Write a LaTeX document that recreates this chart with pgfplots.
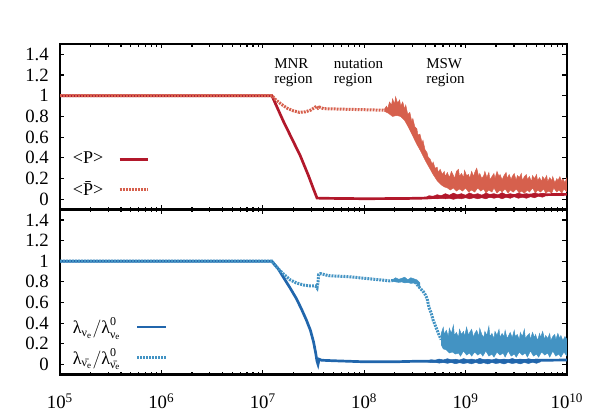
\documentclass[border=0pt]{standalone}
\usepackage{fontspec}
\setmainfont{Liberation Serif}
\usepackage{amsmath}
\usepackage{pgfplots}
\usepackage{pgfplotstable}
\pgfplotsset{compat=1.18}

\definecolor{cP}{HTML}{B2182B}
\definecolor{cPb}{HTML}{D6604D}
\definecolor{cL}{HTML}{2166AC}
\definecolor{cLb}{HTML}{4393C3}

% x is given as log10 of the value
\pgfplotstableread{
lx y
5 1
7.09 1
7.2 0.76
7.3 0.56
7.37 0.42
7.45 0.23
7.5 0.1
7.535 0.012
7.6 0.01
8.0 0.006
8.4 0.008
8.6 0.012
8.8 0.025
9.2 0.03
9.8 0.045
10 0.048
}\tabP

\pgfplotstableread{
lx y
8.60 0.015
8.64 0.035
8.68 0.030
8.72 0.045
8.76 0.035
8.80 0.055
8.84 0.040
8.88 0.060
8.92 0.045
8.96 0.055
9.00 0.040
9.04 0.062
9.08 0.045
9.12 0.055
9.16 0.040
9.20 0.060
9.24 0.048
9.28 0.055
9.32 0.042
9.36 0.065
9.40 0.045
9.44 0.055
9.48 0.045
9.52 0.060
9.56 0.048
9.60 0.055
9.64 0.045
9.68 0.062
9.72 0.050
9.76 0.058
9.80 0.050
9.80 0.040
9.76 0.020
9.72 0.030
9.68 0.015
9.64 0.025
9.60 0.010
9.56 0.020
9.52 0.010
9.48 0.025
9.44 0.010
9.40 0.020
9.36 0.005
9.32 0.020
9.28 0.010
9.24 0.020
9.20 0.005
9.16 0.015
9.12 0.005
9.08 0.015
9.04 0.005
9.00 0.015
8.96 0.005
8.92 0.010
8.88 0.000
8.84 0.010
8.80 0.005
8.76 0.010
8.72 0.005
8.68 0.010
8.64 0.005
8.60 0.008
}\bandP

\pgfplotstableread{
lx y
5 1
7.09 1
7.13 0.96
7.18 0.92
7.24 0.88
7.30 0.855
7.36 0.84
7.42 0.845
7.47 0.86
7.51 0.885
7.53 0.90
7.545 0.88
7.56 0.89
7.60 0.875
7.80 0.87
8.00 0.865
8.20 0.86
8.23 0.86
}\tabPb

\pgfplotstableread{
lx y
8.20 0.87
8.22 0.90
8.23 0.87
8.25 0.94
8.27 0.91
8.28 0.97
8.30 0.92
8.31 0.99
8.33 0.93
8.35 0.96
8.36 0.90
8.38 0.94
8.40 0.87
8.41 0.91
8.43 0.82
8.45 0.84
8.47 0.75
8.48 0.78
8.50 0.70
8.52 0.68
8.53 0.62
8.55 0.63
8.57 0.55
8.58 0.57
8.60 0.48
8.62 0.45
8.63 0.41
8.65 0.39
8.67 0.34
8.68 0.36
8.70 0.30
8.72 0.31
8.73 0.26
8.75 0.29
8.77 0.24
8.79 0.27
8.80 0.22
8.82 0.26
8.84 0.21
8.86 0.27
8.88 0.23
8.89 0.20
8.91 0.27
8.93 0.29
8.94 0.22
8.96 0.25
8.98 0.21
8.99 0.28
9.01 0.23
9.03 0.24
9.04 0.20
9.06 0.27
9.08 0.22
9.09 0.26
9.11 0.30
9.13 0.22
9.14 0.25
9.16 0.20
9.18 0.23
9.19 0.27
9.21 0.21
9.23 0.26
9.24 0.19
9.26 0.22
9.28 0.25
9.29 0.20
9.31 0.27
9.33 0.22
9.34 0.24
9.36 0.19
9.38 0.23
9.40 0.26
9.41 0.20
9.43 0.24
9.45 0.19
9.46 0.22
9.48 0.25
9.50 0.18
9.51 0.23
9.53 0.21
9.55 0.25
9.56 0.18
9.58 0.22
9.60 0.24
9.61 0.19
9.63 0.22
9.65 0.17
9.66 0.23
9.68 0.20
9.70 0.24
9.71 0.18
9.73 0.21
9.75 0.17
9.76 0.22
9.78 0.19
9.80 0.23
9.81 0.17
9.83 0.21
9.85 0.18
9.86 0.22
9.88 0.16
9.90 0.20
9.91 0.18
9.93 0.22
9.95 0.17
9.96 0.20
9.98 0.16
10.0 0.21
10.0 0.07
9.97 0.10
9.95 0.06
9.92 0.09
9.90 0.07
9.87 0.11
9.85 0.06
9.82 0.08
9.79 0.06
9.77 0.10
9.74 0.07
9.71 0.09
9.69 0.06
9.66 0.11
9.63 0.07
9.61 0.09
9.58 0.06
9.55 0.08
9.53 0.06
9.50 0.10
9.47 0.07
9.44 0.09
9.42 0.06
9.39 0.10
9.36 0.07
9.34 0.09
9.31 0.06
9.28 0.11
9.26 0.07
9.23 0.09
9.20 0.06
9.18 0.10
9.15 0.08
9.12 0.11
9.09 0.07
9.06 0.09
9.03 0.07
9.00 0.11
8.97 0.08
8.94 0.10
8.91 0.08
8.88 0.11
8.85 0.09
8.82 0.11
8.79 0.12
8.76 0.14
8.72 0.18
8.68 0.24
8.64 0.31
8.60 0.38
8.56 0.46
8.52 0.53
8.48 0.61
8.44 0.69
8.40 0.76
8.36 0.80
8.32 0.81
8.28 0.80
8.24 0.83
8.20 0.85
}\bandPb

\pgfplotstableread{
lx y
5 1
7.09 1
7.15 0.93
7.20 0.85
7.27 0.74
7.33 0.64
7.38 0.54
7.43 0.43
7.47 0.33
7.50 0.22
7.52 0.12
7.535 0.03
7.545 0.0
7.555 0.05
7.58 0.04
7.70 0.035
8.00 0.025
8.30 0.025
8.50 0.03
8.70 0.03
9.20 0.032
9.76 0.04
10 0.042
}\tabL

\pgfplotstableread{
lx y
8.62 0.035
8.66 0.045
8.70 0.040
8.74 0.052
8.78 0.042
8.82 0.055
8.86 0.045
8.90 0.050
8.94 0.042
8.98 0.056
9.02 0.045
9.06 0.052
9.10 0.043
9.14 0.058
9.18 0.045
9.22 0.050
9.26 0.042
9.30 0.055
9.34 0.046
9.38 0.052
9.42 0.044
9.46 0.057
9.50 0.045
9.54 0.052
9.58 0.043
9.62 0.055
9.66 0.046
9.70 0.052
9.74 0.045
9.74 0.025
9.70 0.010
9.66 0.020
9.62 0.008
9.58 0.018
9.54 0.005
9.50 0.015
9.46 0.008
9.42 0.018
9.38 0.004
9.34 0.015
9.30 0.008
9.26 0.018
9.22 0.004
9.18 0.015
9.14 0.006
9.10 0.018
9.06 0.005
9.02 0.015
8.98 0.008
8.94 0.016
8.90 0.006
8.86 0.018
8.82 0.010
8.78 0.018
8.74 0.012
8.70 0.020
8.66 0.018
8.62 0.025
}\bandL

\pgfplotstableread{
lx y
5 1
7.09 1
7.13 0.95
7.20 0.88
7.27 0.82
7.33 0.79
7.40 0.77
7.47 0.76
7.52 0.76
7.535 0.74
7.545 0.80
7.55 0.87
7.57 0.88
7.65 0.86
7.75 0.855
7.85 0.85
7.95 0.84
8.05 0.83
8.15 0.82
8.25 0.81
8.30 0.815
8.40 0.81
8.50 0.80
8.55 0.74
8.58 0.71
8.60 0.68
8.62 0.64
8.64 0.55
8.66 0.50
8.68 0.43
8.70 0.38
8.72 0.33
8.74 0.28
8.76 0.24
}\tabLb

\pgfplotstableread{
lx y
8.28 0.82
8.31 0.84
8.34 0.825
8.37 0.835
8.40 0.845
8.43 0.82
8.46 0.84
8.49 0.83
8.52 0.82
8.55 0.79
8.55 0.74
8.52 0.78
8.49 0.79
8.46 0.785
8.43 0.795
8.40 0.79
8.37 0.80
8.34 0.795
8.31 0.80
8.28 0.805
}\noiseLb

\pgfplotstableread{
lx y
8.76 0.30
8.78 0.36
8.79 0.29
8.81 0.33
8.83 0.27
8.84 0.35
8.86 0.30
8.88 0.38
8.89 0.28
8.91 0.31
8.93 0.26
8.94 0.34
8.96 0.29
8.98 0.32
8.99 0.27
9.01 0.36
9.03 0.28
9.04 0.31
9.06 0.34
9.08 0.26
9.09 0.30
9.11 0.33
9.13 0.27
9.14 0.35
9.16 0.29
9.18 0.26
9.19 0.32
9.21 0.28
9.23 0.37
9.24 0.27
9.26 0.30
9.28 0.25
9.29 0.32
9.31 0.28
9.33 0.34
9.34 0.26
9.36 0.30
9.38 0.27
9.39 0.33
9.41 0.25
9.43 0.29
9.44 0.31
9.46 0.26
9.48 0.33
9.49 0.27
9.51 0.29
9.53 0.24
9.54 0.31
9.56 0.27
9.58 0.34
9.59 0.25
9.61 0.28
9.63 0.30
9.64 0.24
9.66 0.31
9.68 0.26
9.69 0.29
9.71 0.23
9.73 0.30
9.74 0.26
9.76 0.32
9.78 0.24
9.79 0.28
9.81 0.25
9.83 0.30
9.84 0.23
9.86 0.27
9.88 0.29
9.89 0.24
9.91 0.30
9.93 0.25
9.94 0.28
9.96 0.23
9.98 0.27
10.0 0.24
10.0 0.08
9.97 0.12
9.94 0.07
9.92 0.10
9.89 0.08
9.86 0.13
9.83 0.07
9.81 0.11
9.78 0.09
9.75 0.12
9.72 0.07
9.70 0.10
9.67 0.08
9.64 0.13
9.61 0.07
9.59 0.11
9.56 0.09
9.53 0.12
9.50 0.07
9.48 0.10
9.45 0.08
9.42 0.13
9.39 0.07
9.37 0.11
9.34 0.09
9.31 0.12
9.28 0.07
9.26 0.10
9.23 0.08
9.20 0.13
9.17 0.08
9.15 0.11
9.12 0.09
9.09 0.12
9.06 0.08
9.04 0.11
9.01 0.09
8.98 0.13
8.95 0.08
8.93 0.11
8.90 0.10
8.87 0.12
8.84 0.11
8.81 0.14
8.78 0.15
8.76 0.19
}\bandLb

\tikzset{
  solidline/.style={line width=1.8pt},
  dotline/.style={line width=2pt, dash pattern=on 1.3pt off 0.7pt},
}
\pgfplotsset{
  legend image code/.code={\draw[#1] (0pt,0pt) -- (19pt,0pt);},
  every axis/.append style={
    width=338pt, scale only axis,
    xmin=1e5, xmax=1e10, ymin=-0.1, ymax=1.5,
    ytick={0,0.2,0.4,0.6,0.8,1,1.2,1.4},
    xtick={1e5,1e6,1e7,1e8,1e9,1e10},
    minor xtick={2e5,3e5,4e5,5e5,6e5,7e5,8e5,9e5,2e6,3e6,4e6,5e6,6e6,7e6,8e6,9e6,2e7,3e7,4e7,5e7,6e7,7e7,8e7,9e7,2e8,3e8,4e8,5e8,6e8,7e8,8e8,9e8,2e9,3e9,4e9,5e9,6e9,7e9,8e9,9e9},
    tick align=inside,
    major tick length=3pt, minor tick length=1.7pt,
    axis line style={line width=1.6pt},
    tick label style={font=\fontsize{12.5}{14}\selectfont},
    yticklabel style={xshift=-4pt},
    legend cell align=left,
    legend style={draw=none, fill=none, font=\fontsize{12}{14}\selectfont,
      column sep=8pt},
  },
  every tick/.style={black, line width=0.8pt},
}

\begin{document}
\begin{tikzpicture}
\begin{semilogxaxis}[name=top, height=110.5pt, xticklabels=\empty,
  /pgf/number format/assume math mode=true,
  legend plot pos=right,
  legend style={at={(0.01,0.385)}, anchor=north west, row sep=6pt}]
\addplot[cPb, fill=cPb, line width=0.3pt, forget plot]
  table[x expr=10^\thisrow{lx}, y=y] {\bandPb};
\addplot[cP, fill=cP, line width=0.3pt, forget plot]
  table[x expr=10^\thisrow{lx}, y=y] {\bandP};
\addplot[cP, solidline] table[x expr=10^\thisrow{lx}, y=y] {\tabP};
\addlegendentry{<P>}
\addplot[cPb, dotline] table[x expr=10^\thisrow{lx}, y=y] {\tabPb};
\addlegendentry{<\={P}>}
\node[anchor=north west, inner sep=0pt, align=left,
  font=\fontsize{10}{10}\selectfont] at (axis cs:1.29e7,1.36) {MNR\\region};
\node[anchor=north west, inner sep=0pt, align=left,
  font=\fontsize{10}{10}\selectfont] at (axis cs:5.0e7,1.36) {nutation\\region};
\node[anchor=north west, inner sep=0pt, align=left,
  font=\fontsize{10}{10}\selectfont] at (axis cs:4.07e8,1.36) {MSW\\region};
\end{semilogxaxis}

\begin{semilogxaxis}[name=bot, at={(top.south west)}, anchor=north west,
  height=110pt,
  /pgf/number format/assume math mode=true,
  legend plot pos=right,
  xticklabels={10\textsuperscript{5},10\textsuperscript{6},10\textsuperscript{7},10\textsuperscript{8},10\textsuperscript{9},10\textsuperscript{10}},
  xticklabel style={yshift=-9pt},
  legend style={at={(0.01,0.382)}, anchor=north west, row sep=4pt}]
\addplot[cLb, fill=cLb, line width=0.3pt, forget plot]
  table[x expr=10^\thisrow{lx}, y=y] {\bandLb};
\addplot[cLb, fill=cLb, line width=0.3pt, forget plot]
  table[x expr=10^\thisrow{lx}, y=y] {\noiseLb};
\addplot[cL, fill=cL, line width=0.3pt, forget plot]
  table[x expr=10^\thisrow{lx}, y=y] {\bandL};
\addplot[cL, solidline] table[x expr=10^\thisrow{lx}, y=y] {\tabL};
\addlegendentry{$\text{λ}_{\text{ν}_\text{e}}/\text{λ}^{\text{0}}_{\text{ν}_\text{e}}$}
\addplot[cLb, dotline] table[x expr=10^\thisrow{lx}, y=y] {\tabLb};
\addlegendentry{$\text{λ}_{\text{\={ν}}_\text{e}}/\text{λ}^{\text{0}}_{\text{\={ν}}_\text{e}}$}
\end{semilogxaxis}

\pgfresetboundingbox
\path[use as bounding box] ([shift={(-40pt,29.3pt)}]top.north west)
  rectangle ([shift={(20.7pt,-29.3pt)}]bot.south east);
\end{tikzpicture}
\end{document}
